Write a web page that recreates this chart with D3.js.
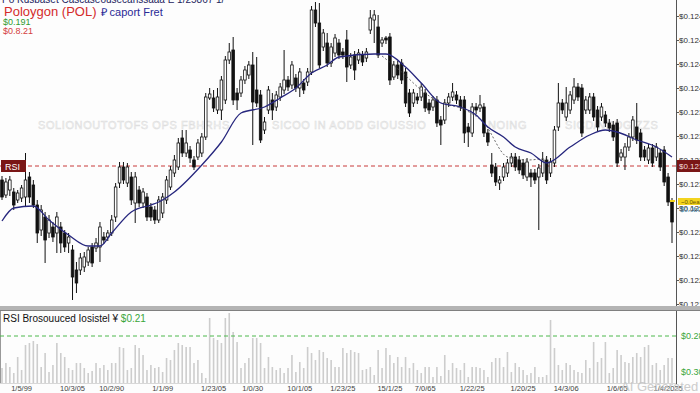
<!DOCTYPE html>
<html lang="en">
<head>
<meta charset="UTF-8">
<title>Polygon (POL) candlestick chart</title>
<script src="https://d3js.org/d3.v7.min.js"></script>
<style>
  body { margin: 0; background: #fff; }
  svg { display: block; font-family: "Liberation Sans", Arial, sans-serif; }
</style>
</head>
<body>
<div id="chart"></div>
<script>
// candles: [open, high, low, close]
const candles = [
  [0.12320,0.12324,0.12300,0.12303],[0.12305,0.12322,0.12302,0.12318],[0.12310,0.12324,0.12304,0.12320],[0.12308,0.12312,0.12290,0.12295],
  [0.12300,0.12310,0.12297,0.12307],[0.12302,0.12315,0.12298,0.12312],[0.12303,0.12347,0.12293,0.12320],[0.12323,0.12328,0.12297,0.12303],
  [0.12315,0.12320,0.12292,0.12295],[0.12295,0.12300,0.12257,0.12267],[0.12270,0.12295,0.12264,0.12290],[0.12283,0.12288,0.12237,0.12260],
  [0.12267,0.12285,0.12262,0.12280],[0.12273,0.12278,0.12258,0.12263],[0.12267,0.12288,0.12247,0.12283],[0.12273,0.12278,0.12247,0.12257],
  [0.12267,0.12270,0.12248,0.12253],[0.12257,0.12267,0.12247,0.12263],[0.12250,0.12255,0.12200,0.12223],[0.12230,0.12238,0.12207,0.12217],
  [0.12230,0.12247,0.12225,0.12242],[0.12233,0.12248,0.12228,0.12243],[0.12238,0.12253,0.12234,0.12250],[0.12253,0.12257,0.12233,0.12237],
  [0.12252,0.12262,0.12248,0.12257],[0.12253,0.12278,0.12238,0.12273],[0.12263,0.12268,0.12256,0.12260],[0.12263,0.12270,0.12259,0.12267],
  [0.12267,0.12285,0.12264,0.12280],[0.12283,0.12317,0.12278,0.12313],[0.12317,0.12338,0.12312,0.12333],[0.12333,0.12338,0.12316,0.12320],
  [0.12317,0.12337,0.12313,0.12333],[0.12323,0.12328,0.12295,0.12300],[0.12297,0.12328,0.12277,0.12323],[0.12310,0.12314,0.12293,0.12297],
  [0.12297,0.12312,0.12292,0.12308],[0.12303,0.12307,0.12279,0.12283],[0.12293,0.12297,0.12279,0.12283],[0.12290,0.12294,0.12276,0.12280],
  [0.12280,0.12304,0.12277,0.12300],[0.12287,0.12307,0.12282,0.12303],[0.12300,0.12324,0.12296,0.12320],[0.12313,0.12334,0.12310,0.12330],
  [0.12327,0.12345,0.12323,0.12340],[0.12333,0.12362,0.12330,0.12357],[0.12362,0.12370,0.12343,0.12347],[0.12347,0.12370,0.12343,0.12357],
  [0.12350,0.12354,0.12337,0.12342],[0.12340,0.12344,0.12330,0.12333],[0.12343,0.12361,0.12340,0.12357],[0.12347,0.12367,0.12343,0.12363],
  [0.12363,0.12407,0.12360,0.12403],[0.12402,0.12412,0.12400,0.12406],[0.12402,0.12410,0.12388,0.12392],[0.12390,0.12412,0.12386,0.12403],
  [0.12390,0.12424,0.12380,0.12420],[0.12400,0.12444,0.12396,0.12440],[0.12440,0.12457,0.12436,0.12448],[0.12450,0.12463,0.12395,0.12400],
  [0.12407,0.12412,0.12390,0.12400],[0.12407,0.12424,0.12403,0.12420],[0.12420,0.12434,0.12416,0.12430],[0.12425,0.12439,0.12421,0.12435],
  [0.12435,0.12448,0.12355,0.12398],[0.12410,0.12443,0.12393,0.12397],[0.12405,0.12410,0.12357,0.12360],[0.12370,0.12383,0.12366,0.12378],
  [0.12390,0.12414,0.12386,0.12410],[0.12400,0.12407,0.12380,0.12390],[0.12393,0.12409,0.12389,0.12405],[0.12403,0.12417,0.12399,0.12413],
  [0.12410,0.12450,0.12406,0.12420],[0.12420,0.12424,0.12409,0.12413],[0.12415,0.12439,0.12411,0.12435],[0.12422,0.12426,0.12408,0.12412],
  [0.12412,0.12432,0.12403,0.12428],[0.12417,0.12421,0.12406,0.12410],[0.12418,0.12432,0.12414,0.12428],[0.12428,0.12494,0.12425,0.12490],
  [0.12490,0.12498,0.12473,0.12477],[0.12477,0.12497,0.12432,0.12435],[0.12453,0.12471,0.12449,0.12467],[0.12457,0.12467,0.12433,0.12437],
  [0.12437,0.12457,0.12433,0.12453],[0.12447,0.12466,0.12443,0.12462],[0.12457,0.12461,0.12441,0.12445],[0.12448,0.12452,0.12441,0.12445],
  [0.12460,0.12470,0.12418,0.12433],[0.12435,0.12447,0.12431,0.12443],[0.12445,0.12449,0.12420,0.12430],[0.12440,0.12451,0.12436,0.12447],
  [0.12445,0.12449,0.12434,0.12438],[0.12442,0.12452,0.12438,0.12448],[0.12470,0.12490,0.12466,0.12482],[0.12480,0.12490,0.12457,0.12485],
  [0.12473,0.12485,0.12442,0.12445],[0.12457,0.12463,0.12453,0.12460],[0.12462,0.12464,0.12456,0.12460],[0.12463,0.12467,0.12415,0.12420],
  [0.12423,0.12439,0.12420,0.12435],[0.12435,0.12439,0.12421,0.12425],[0.12437,0.12441,0.12416,0.12420],[0.12428,0.12432,0.12393,0.12397],
  [0.12407,0.12411,0.12383,0.12387],[0.12397,0.12411,0.12393,0.12407],[0.12403,0.12407,0.12396,0.12400],[0.12403,0.12417,0.12399,0.12413],
  [0.12407,0.12411,0.12388,0.12392],[0.12397,0.12401,0.12386,0.12390],[0.12393,0.12404,0.12389,0.12400],[0.12400,0.12404,0.12373,0.12377],
  [0.12380,0.12384,0.12355,0.12375],[0.12380,0.12401,0.12376,0.12397],[0.12397,0.12407,0.12393,0.12403],[0.12403,0.12417,0.12399,0.12408],
  [0.12405,0.12409,0.12396,0.12400],[0.12400,0.12404,0.12389,0.12393],[0.12400,0.12404,0.12357,0.12367],[0.12373,0.12377,0.12353,0.12368],
  [0.12367,0.12397,0.12363,0.12393],[0.12393,0.12397,0.12386,0.12390],[0.12392,0.12405,0.12388,0.12395],[0.12393,0.12397,0.12363,0.12367],
  [0.12367,0.12371,0.12354,0.12358],[0.12335,0.12347,0.12323,0.12327],[0.12333,0.12337,0.12314,0.12318],[0.12317,0.12324,0.12310,0.12320],
  [0.12323,0.12337,0.12319,0.12333],[0.12327,0.12341,0.12323,0.12337],[0.12337,0.12347,0.12333,0.12343],[0.12343,0.12347,0.12329,0.12333],
  [0.12340,0.12344,0.12326,0.12330],[0.12337,0.12341,0.12321,0.12325],[0.12323,0.12342,0.12319,0.12338],[0.12327,0.12331,0.12313,0.12323],
  [0.12327,0.12331,0.12316,0.12320],[0.12323,0.12336,0.12270,0.12332],[0.12327,0.12348,0.12323,0.12340],[0.12340,0.12344,0.12316,0.12320],
  [0.12327,0.12342,0.12323,0.12338],[0.12337,0.12374,0.12333,0.12370],[0.12373,0.12417,0.12369,0.12397],[0.12397,0.12401,0.12386,0.12390],
  [0.12383,0.12413,0.12379,0.12397],[0.12390,0.12409,0.12386,0.12405],[0.12400,0.12422,0.12396,0.12413],[0.12413,0.12417,0.12399,0.12403],
  [0.12412,0.12416,0.12363,0.12367],[0.12390,0.12404,0.12386,0.12400],[0.12390,0.12407,0.12386,0.12403],[0.12403,0.12407,0.12379,0.12383],
  [0.12390,0.12394,0.12369,0.12373],[0.12383,0.12397,0.12379,0.12393],[0.12385,0.12389,0.12373,0.12377],[0.12377,0.12381,0.12368,0.12372],
  [0.12375,0.12379,0.12359,0.12363],[0.12377,0.12381,0.12333,0.12337],[0.12343,0.12351,0.12339,0.12347],[0.12343,0.12357,0.12330,0.12353],
  [0.12353,0.12367,0.12349,0.12363],[0.12363,0.12384,0.12359,0.12380],[0.12373,0.12397,0.12356,0.12360],[0.12367,0.12371,0.12339,0.12343],
  [0.12350,0.12354,0.12339,0.12343],[0.12340,0.12356,0.12336,0.12352],[0.12352,0.12356,0.12333,0.12337],[0.12343,0.12357,0.12339,0.12353],
  [0.12347,0.12351,0.12329,0.12333],[0.12350,0.12354,0.12314,0.12318],[0.12323,0.12327,0.12294,0.12298],[0.12298,0.12302,0.12257,0.12278]
];

// lower panel bars, one per candle
const volumes = [
  15,20,16,10,26,13,38,40,42,39,16,30,11,18,40,30,26,15,13,20,
  20,15,10,12,20,15,18,13,20,20,36,35,13,15,38,35,28,13,18,15,
  16,11,25,23,33,40,38,36,36,20,23,10,5,65,45,43,40,65,70,51,
  41,15,20,25,45,45,40,15,26,16,13,15,10,15,28,11,21,15,36,30,
  23,33,31,25,23,16,16,35,30,33,31,
  30,13,14,16,8,33,15,35,28,20,26,16,26,15,20,13,10,16,16,6,
  16,7,28,13,20,15,13,20,6,16,16,15,13,6,21,25,25,16,31,11,
  20,16,13,8,10,16,6,6,8,63,35,18,13,20,18,13,11,10,23,15,
  41,21,25,41,10,15,33,28,21,20,26,30,26,36,38,18,20,13,18,25,25
];

// moving average: [candle index, price]
const maPoints = [
  [0,0.12279],[3,0.12292],[8,0.12294],[12,0.12280],[17,0.12265],[22,0.12254],[25,0.12254],
  [28,0.12267],[33,0.12288],[38,0.12295],[40,0.12298],[44,0.12308],[51,0.12335],[56,0.12358],
  [61,0.12387],[67,0.12393],[71,0.12402],[75,0.12412],[79,0.12427],[83,0.12435],[86,0.12443],
  [95,0.12446],[98,0.12446],[103,0.12433],[107,0.12417],[112,0.12397],[117,0.12393],[121,0.12385],
  [124,0.12373],[128,0.12363],[131,0.12353],[135,0.12347],[139,0.12337],[145,0.12353],[150,0.12365],
  [154,0.12370],[157,0.12368],[162,0.12360],[167,0.12353],[171,0.12343]
];

// thin dotted line
const signalPoints = [
  [97,0.12444],[102,0.12428],[107,0.12410],[112,0.12397],[117,0.12392],[123,0.12377],
  [129,0.12343],[134,0.12340],[139,0.12342]
];

const priceTicks = [0.12484,0.12460,0.12436,0.12412,0.12388,0.12364,0.12340,0.12316,0.12292,0.12268,0.12244,0.12220,0.12196];
const supportLevel = 0.12334;
const lowerTicks = [[47,'$0.28'],[11,'$0.30']];
const lowerLine = 47;

const dateLabels = [
  [5,'1/5/99'],[18,'10/3/05'],[28,'10/2/90'],[41,'1/1/99'],[54,'1/23/05'],[64,'1/0/30'],
  [76,'10/1/05'],[87,'1/23/25'],[99,'15/1/25'],[108,'7/0/65'],[120,'1/22/25'],[133,'1/20/25'],
  [144,'14/3/06'],[157,'1/6/65'],[170,'1/4/2025']
];

const W = 700, H = 393;
const svg = d3.select('#chart').append('svg').attr('width', W).attr('height', H);

const x = d3.scalePoint().domain(d3.range(candles.length)).range([2, 672]);
const y = d3.scaleLinear().domain([0.122, 0.125]).range([300, 0]);
const yv = d3.scaleLinear().domain([0, 72]).range([383, 311]);

svg.append('rect').attr('width', W).attr('height', H).attr('fill', '#fdfdfd');

// faint watermark row
const wm = [[38,'SOLIONOUTOTOFS OPS FBHRHS'],[272,'SICOO IN AODD GIOUSSIO'],[488,'NOING'],[565,'SICD/NDDG/ZZS']];
svg.selectAll('.wm').data(wm).join('text')
  .attr('x', d => d[0]).attr('y', 129)
  .attr('font-size', 11).attr('letter-spacing', 0.6)
  .attr('fill', 'none').attr('stroke', '#dedede').attr('stroke-width', 0.6)
  .text(d => d[1]);

// main plot
const plot = svg.append('g');

plot.append('line')
  .attr('x1', 0).attr('x2', 676)
  .attr('y1', y(supportLevel)).attr('y2', y(supportLevel))
  .attr('stroke', '#c83a3a').attr('stroke-width', 1)
  .attr('stroke-dasharray', '4,3');

plot.selectAll('.wick').data(candles).join('line')
  .attr('x1', (d, i) => x(i)).attr('x2', (d, i) => x(i))
  .attr('y1', d => y(d[1])).attr('y2', d => y(d[2]))
  .attr('stroke', '#111').attr('stroke-width', 1);

plot.selectAll('.body').data(candles).join('rect')
  .attr('x', (d, i) => x(i) - 1.3)
  .attr('width', 2.6)
  .attr('y', d => y(Math.max(d[0], d[3])))
  .attr('height', d => Math.max(1, Math.abs(y(d[0]) - y(d[3]))))
  .attr('fill', d => d[3] >= d[0] ? '#fff' : '#111')
  .attr('stroke', '#111').attr('stroke-width', 0.8);

const line = d3.line().x(d => x(d[0])).y(d => y(d[1])).curve(d3.curveMonotoneX);

plot.append('path').datum(signalPoints)
  .attr('d', line).attr('fill', 'none')
  .attr('stroke', '#444').attr('stroke-width', 0.8)
  .attr('stroke-dasharray', '2,2');

plot.append('path').datum(maPoints)
  .attr('d', line).attr('fill', 'none')
  .attr('stroke', '#27277e').attr('stroke-width', 1.3);

// right price axis
const axis = svg.append('g')
  .attr('transform', 'translate(676,0)')
  .call(d3.axisRight(y).tickValues(priceTicks).tickSize(3).tickPadding(0)
    .tickFormat(d => '$' + d.toFixed(5)));
axis.select('.domain').remove();
axis.selectAll('text').attr('font-size', 8).attr('fill', '#333')
  .attr('font-family', '"Liberation Sans", Arial, sans-serif');
axis.selectAll('line').attr('stroke', '#555');
svg.append('line').attr('x1', 676.5).attr('x2', 676.5).attr('y1', 0).attr('y2', 384)
  .attr('stroke', '#555').attr('stroke-width', 1);

// price tags
svg.append('rect').attr('x', 1).attr('y', 160).attr('width', 25).attr('height', 12).attr('fill', '#7a1616');
svg.append('text').attr('x', 5).attr('y', 169.5).attr('font-size', 9).attr('fill', '#fff').text('RSI');
svg.append('rect').attr('x', 677).attr('y', 160).attr('width', 23).attr('height', 12).attr('fill', '#7a1616');
svg.append('text').attr('x', 679).attr('y', 169).attr('font-size', 8).attr('fill', '#f4dede').text('$0.1233');
svg.append('rect').attr('x', 678).attr('y', 198).attr('width', 22).attr('height', 7).attr('fill', '#f2d31e');
svg.append('text').attr('x', 681).attr('y', 204).attr('font-size', 6).attr('fill', '#6a5500').text('~0.0ea');
svg.append('rect').attr('x', 670).attr('y', 200).attr('width', 5).attr('height', 2).attr('fill', '#f2d31e');
svg.append('text').attr('x', 680).attr('y', 212).attr('font-size', 7).attr('fill', '#3a7a9a').text('$0.0b0');

// header
svg.append('text').attr('x', 2).attr('y', 3).attr('font-size', 10).attr('fill', '#23235e')
  .text('Po Kusbaset Cascaseousecanssaaa E 1/25867 1/');
const h2 = svg.append('text').attr('x', 4).attr('y', 16);
h2.append('tspan').attr('font-size', 13).attr('fill', '#d42b2b').text('Poloygon (POL)');
h2.append('tspan').attr('dx', 4).attr('font-size', 11).attr('fill', '#2a2a96').text('₽ caport Fret');
svg.append('text').attr('x', 3).attr('y', 25).attr('font-size', 9).attr('fill', '#2f9a2f').text('$0.191');
svg.append('text').attr('x', 3).attr('y', 34).attr('font-size', 9).attr('fill', '#d44040').text('$0.8.21');

// lower panel
svg.append('rect').attr('x', 0).attr('y', 306).attr('width', 700).attr('height', 5).attr('fill', '#b4b4b4');
svg.append('line').attr('x1', 0).attr('x2', 700).attr('y1', 310.5).attr('y2', 310.5).attr('stroke', '#808080');
svg.append('line').attr('x1', 0.5).attr('x2', 0.5).attr('y1', 311).attr('y2', 383).attr('stroke', '#999');

svg.selectAll('.vol').data(volumes).join('rect')
  .attr('x', (d, i) => x(i) - 0.8)
  .attr('width', 1.6)
  .attr('y', d => yv(d))
  .attr('height', d => 383 - yv(d))
  .attr('fill', '#cdcdcd');

svg.append('line')
  .attr('x1', 0).attr('x2', 676)
  .attr('y1', yv(lowerLine)).attr('y2', yv(lowerLine))
  .attr('stroke', '#4cb84c').attr('stroke-width', 1)
  .attr('stroke-dasharray', '4,3');

svg.append('line').attr('x1', 0).attr('x2', 676).attr('y1', 383.5).attr('y2', 383.5).attr('stroke', '#d8d8d8');

svg.selectAll('.lt').data(lowerTicks).join('text')
  .attr('x', 681).attr('y', d => yv(d[0]) + 3)
  .attr('font-size', 9).attr('fill', '#3aa63a')
  .text(d => d[1]);

const pt = svg.append('text').attr('x', 3).attr('y', 322).attr('font-size', 10);
pt.append('tspan').attr('fill', '#111').text('RSI Brosouuced Iosistel ¥ ');
pt.append('tspan').attr('fill', '#3aa63a').text('$0.21');

svg.selectAll('.date').data(dateLabels).join('text')
  .attr('x', d => x(d[0])).attr('y', 391)
  .attr('text-anchor', 'middle')
  .attr('font-size', 7.5).attr('fill', '#444')
  .text(d => d[1]);

svg.append('text').attr('x', 621).attr('y', 391)
  .attr('font-size', 13).attr('fill', '#c4c4c4').attr('opacity', 0.85)
  .text('AI Generated');
</script>
</body>
</html>
